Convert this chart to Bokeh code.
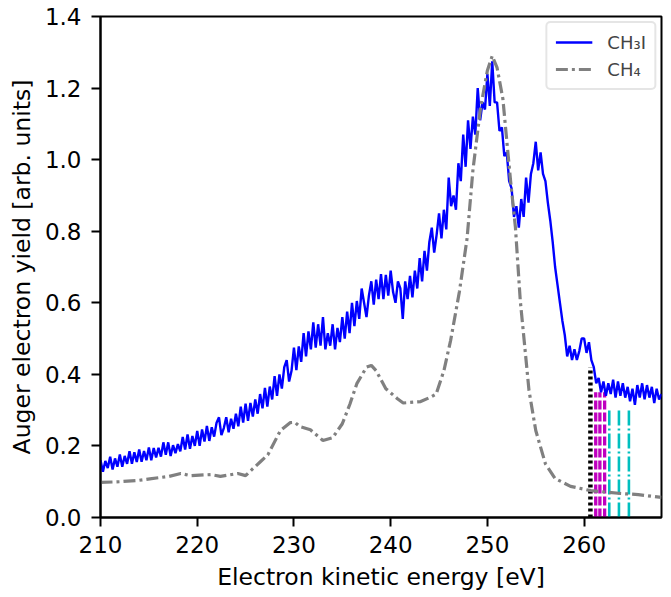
import numpy as np
from bokeh.plotting import figure
from bokeh.models import Range1d, Legend, LegendItem, FixedTicker, CustomJSTickFormatter
from bokeh.embed import file_html
from bokeh.resources import INLINE

ch3i_start = 210.0
ch3i_step = 0.25
ch3i_yield = [
    0.160, 0.128, 0.158, 0.138,
    0.170, 0.134, 0.165, 0.142,
    0.176, 0.142, 0.172, 0.150,
    0.185, 0.150, 0.182, 0.155,
    0.190, 0.156, 0.186, 0.160,
    0.196, 0.160, 0.194, 0.168,
    0.195, 0.170, 0.210, 0.175,
    0.210, 0.172, 0.202, 0.180,
    0.205, 0.185, 0.225, 0.190,
    0.232, 0.192, 0.228, 0.200,
    0.242, 0.200, 0.246, 0.212,
    0.256, 0.214, 0.252, 0.226,
    0.265, 0.280, 0.230, 0.250,
    0.280, 0.238, 0.276, 0.248,
    0.290, 0.255, 0.310, 0.265,
    0.318, 0.270, 0.320, 0.282,
    0.330, 0.290, 0.345, 0.305,
    0.362, 0.310, 0.366, 0.330,
    0.395, 0.340, 0.400, 0.360,
    0.420, 0.440, 0.380, 0.410,
    0.475, 0.412, 0.478, 0.435,
    0.515, 0.450, 0.520, 0.470,
    0.545, 0.475, 0.540, 0.480,
    0.560, 0.470, 0.515, 0.480,
    0.540, 0.470, 0.530, 0.490,
    0.560, 0.500, 0.575, 0.515,
    0.600, 0.535, 0.605, 0.555,
    0.640, 0.600, 0.560, 0.620,
    0.660, 0.595, 0.665, 0.610,
    0.680, 0.610, 0.678, 0.620,
    0.690, 0.630, 0.600, 0.660,
    0.640, 0.555, 0.660, 0.610,
    0.675, 0.615, 0.690, 0.640,
    0.725, 0.660, 0.745, 0.690,
    0.770, 0.810, 0.740, 0.790,
    0.850, 0.780, 0.860, 0.805,
    0.950, 0.870, 0.900, 0.860,
    0.990, 0.940, 1.070, 0.980,
    1.110, 1.030, 1.120, 1.070,
    1.200, 1.110, 1.160, 1.140,
    1.240, 1.150, 1.275, 1.160,
    1.160, 1.080, 1.090, 1.010,
    1.020, 0.940, 0.920, 0.840,
    0.870, 0.810, 0.890, 0.840,
    0.950, 0.880, 0.960, 0.990,
    1.050, 0.970, 1.020, 0.960,
    0.940, 0.880, 0.830, 0.770,
    0.700, 0.650, 0.600, 0.550,
    0.510, 0.450, 0.480, 0.440,
    0.470, 0.440, 0.465, 0.500,
    0.500, 0.460, 0.490, 0.440,
    0.420, 0.375, 0.390, 0.350,
    0.380, 0.340, 0.375, 0.345,
    0.385, 0.335, 0.380, 0.340,
    0.375, 0.335, 0.365, 0.325,
    0.360, 0.315, 0.370, 0.335,
    0.375, 0.330, 0.370, 0.335,
    0.365, 0.320, 0.360, 0.330,
    0.345,
]
ch3i_energy = [ch3i_start + ch3i_step * i for i in range(len(ch3i_yield))]

# CH4 reference spectrum
ch4_energy = [210.0, 212.0, 214.0, 215.1, 217.1, 218.3, 219.3, 221.4, 222.4, 224.2,
              225.0, 225.7, 226.5, 227.3, 228.6, 229.6, 230.1, 230.6, 231.7, 233.0,
              234.0, 235.0, 235.8, 236.5, 237.5, 238.0, 238.5, 239.5, 240.7, 241.3,
              243.1, 244.1, 244.7, 245.5, 246.2, 247.1, 247.9, 248.5, 249.3, 250.0,
              250.5, 251.0, 251.6, 252.1, 252.4, 252.9, 253.4, 253.8, 254.3, 255.0,
              256.0, 257.0, 258.6, 260.7, 263.8, 265.6, 268.0]
ch4_yield = [0.098, 0.100, 0.104, 0.108, 0.115, 0.123, 0.117, 0.120, 0.115, 0.123,
             0.117, 0.135, 0.155, 0.175, 0.243, 0.265, 0.266, 0.254, 0.245, 0.215,
             0.223, 0.262, 0.318, 0.374, 0.420, 0.425, 0.410, 0.360, 0.332, 0.320,
             0.324, 0.336, 0.345, 0.410, 0.495, 0.630, 0.780, 0.970, 1.146, 1.249,
             1.290, 1.257, 1.170, 1.025, 0.940, 0.810, 0.606, 0.495, 0.355, 0.243,
             0.150, 0.109, 0.087, 0.075, 0.067, 0.064, 0.056]

# marker lines
black_energy = [260.65]
black_top = [0.42]
magenta_energy = [261.2, 261.63, 262.12]
magenta_top = [0.35, 0.35, 0.35]
cyan_energy = [262.6, 263.6, 264.63]
cyan_top = [0.307, 0.307, 0.307]

x_ticks = [210, 220, 230, 240, 250, 260]
y_ticks = [0.0, 0.2, 0.4, 0.6, 0.8, 1.0, 1.2, 1.4]

FONT = "DejaVu Sans"

p = figure(width=671, height=597, output_backend="svg", toolbar_location=None,
           x_range=Range1d(210, 268), y_range=Range1d(0, 1.4),
           min_border_left=100, min_border_right=10, min_border_top=16,
           min_border_bottom=80)
p.xgrid.visible = False
p.ygrid.visible = False
p.outline_line_color = "black"
p.outline_line_width = 2
p.background_fill_color = "white"
p.border_fill_color = "white"

for ax in (p.xaxis[0], p.yaxis[0]):
    ax.axis_line_width = 2
    ax.major_tick_in = 0
    ax.major_tick_out = 9
    ax.major_tick_line_width = 2
    ax.minor_tick_line_color = None
    ax.major_label_text_font = FONT
    ax.major_label_text_font_size = "23px"
    ax.major_label_text_color = "black"
    ax.axis_label_text_font = FONT
    ax.axis_label_text_font_size = "23.5px"
    ax.axis_label_text_font_style = "normal"
    ax.axis_label_text_color = "black"

p.xaxis.ticker = FixedTicker(ticks=x_ticks)
p.yaxis.ticker = FixedTicker(ticks=y_ticks)
p.yaxis.formatter = CustomJSTickFormatter(code="return tick.toFixed(1);")
p.xaxis.axis_label = "Electron kinetic energy [eV]"
p.yaxis.axis_label = "Auger electron yield [arb. units]"
p.xaxis.major_label_standoff = 9
p.yaxis.major_label_standoff = 10
p.xaxis.axis_label_standoff = 7
p.yaxis.axis_label_standoff = 6

# vertical marker lines
p.segment(x0=black_energy, y0=[0] * len(black_energy), x1=black_energy, y1=black_top,
          line_color="black", line_width=4.5, line_dash="3 3")
p.segment(x0=magenta_energy, y0=[0] * len(magenta_energy), x1=magenta_energy, y1=magenta_top,
          line_color="#bf00bf", line_width=3.3, line_dash="9 3")
p.segment(x0=cyan_energy, y0=[0] * len(cyan_energy), x1=cyan_energy, y1=cyan_top,
          line_color="#00bfbf", line_width=2.6, line_dash="15 3 2 3")

r_ch3i = p.line(ch3i_energy, ch3i_yield, line_color="blue", line_width=2.4)
r_ch4 = p.line(ch4_energy, ch4_yield, line_color="gray", line_width=3.2,
               line_dash="12 4 3 4")

legend = Legend(items=[LegendItem(label="CH₃I", renderers=[r_ch3i]),
                       LegendItem(label="CH₄", renderers=[r_ch4])],
                location="top_right")
legend.label_text_font = FONT
legend.label_text_font_size = "18px"
legend.border_line_color = "#cccccc"
legend.border_line_width = 2
legend.border_radius = 5
legend.background_fill_alpha = 0.85
legend.glyph_width = 37
legend.glyph_height = 22
legend.label_height = 22
legend.label_standoff = 15
legend.spacing = 5
legend.padding = 8
legend.margin = 5
p.add_layout(legend)

open("out.html", "w").write(file_html(p, INLINE))
